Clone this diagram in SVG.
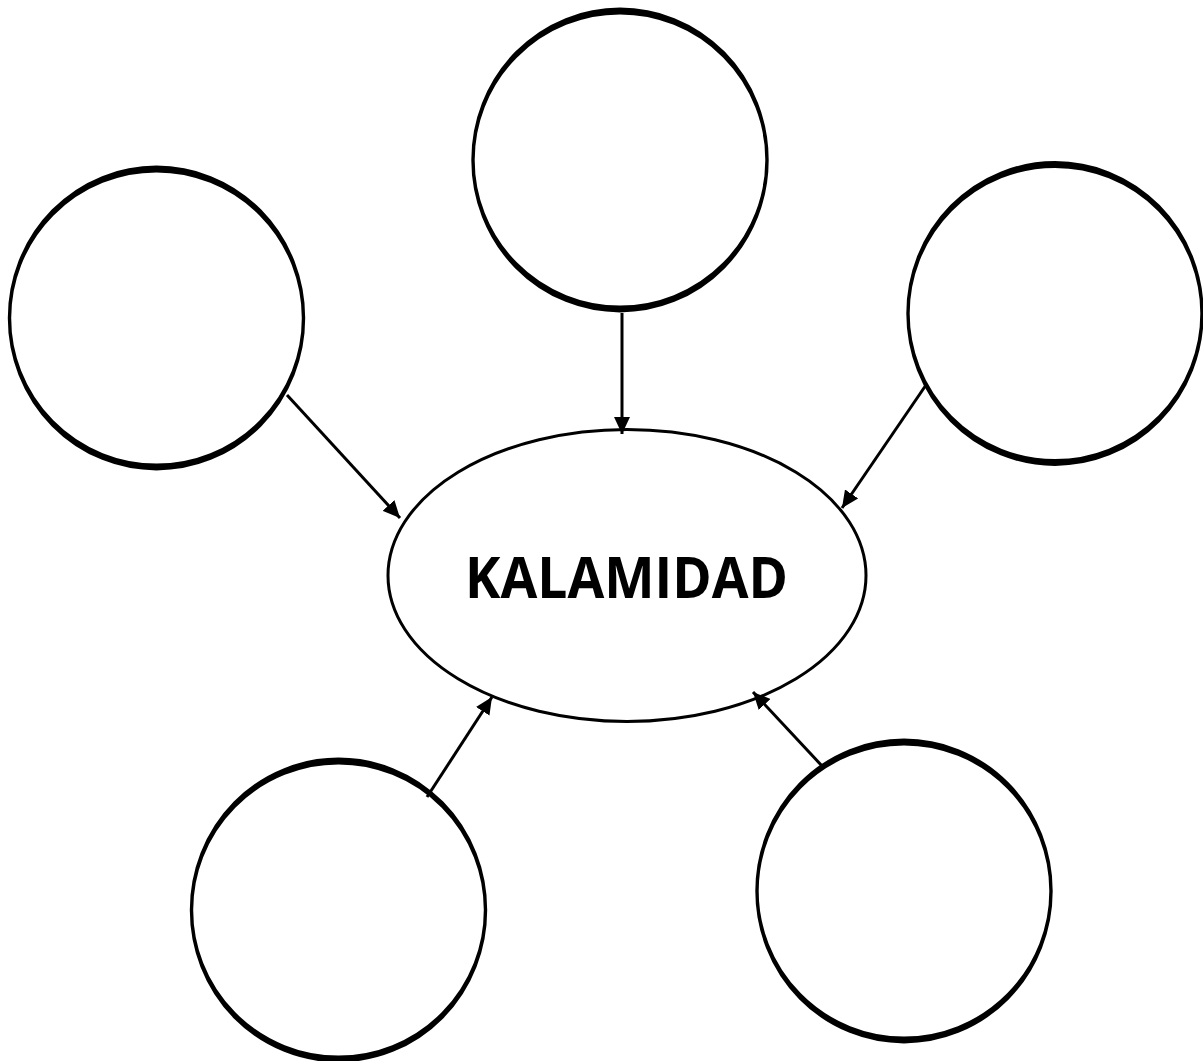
<svg xmlns="http://www.w3.org/2000/svg" width="1203" height="1061" viewBox="0 0 1203 1061">
  <style>
    .bubble { fill: #ffffff; stroke: #000000; stroke-width: 3.4; }
    .center { fill: #ffffff; stroke: #000000; stroke-width: 3; }
    .conn { stroke: #000000; stroke-width: 3; fill: none; marker-end: url(#arrow); }
    .label { font-family: "Open Sans", "Liberation Sans", sans-serif; font-weight: 700; font-size: 58px; fill: #000000; }
  </style>
  <defs>
    <marker id="arrow" markerUnits="userSpaceOnUse" markerWidth="18" markerHeight="16" refX="17" refY="8" orient="auto">
      <path d="M0,0 L17,8 L0,16 z" fill="#000000"/>
    </marker>
  </defs>
  <rect width="1203" height="1061" fill="#ffffff"/>

  <g id="node-top">
    <ellipse class="bubble" cx="0" cy="0" rx="147" ry="74.5" transform="translate(620,160) scale(1,2)"/>
  </g>
  <g id="node-left">
    <ellipse class="bubble" cx="0" cy="0" rx="147" ry="74.5" transform="translate(156.5,318) scale(1,2)"/>
  </g>
  <g id="node-right">
    <ellipse class="bubble" cx="0" cy="0" rx="147" ry="74.5" transform="translate(1055,313.5) scale(1,2)"/>
  </g>
  <g id="node-bottom-left">
    <ellipse class="bubble" cx="0" cy="0" rx="147" ry="74.5" transform="translate(338.5,910) scale(1,2)"/>
  </g>
  <g id="node-bottom-right">
    <ellipse class="bubble" cx="0" cy="0" rx="147" ry="74.5" transform="translate(904,891) scale(1,2)"/>
  </g>

  <g id="node-center">
    <ellipse class="center" cx="627" cy="575.5" rx="239" ry="146"/>
    <text class="label" x="465" y="598" textLength="323" lengthAdjust="spacingAndGlyphs">KALAMIDAD</text>
  </g>

  <g id="connectors">
    <line class="conn" x1="622" y1="313" x2="622" y2="434"/>
    <line class="conn" x1="287" y1="395" x2="400" y2="518"/>
    <line class="conn" x1="926" y1="385" x2="842" y2="508"/>
    <line class="conn" x1="427" y1="797" x2="492" y2="697"/>
    <line class="conn" x1="823" y1="767" x2="753" y2="692"/>
  </g>
</svg>
